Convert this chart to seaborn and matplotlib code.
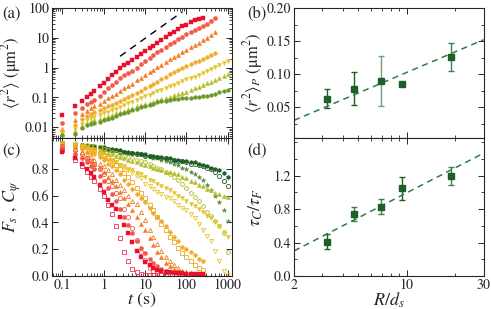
import seaborn as sns
import matplotlib.pyplot as plt
import matplotlib.ticker as mticker
import numpy as np

sns.set_style('ticks')
plt.rcParams['font.family'] = ['STIXGeneral', 'DejaVu Serif']
plt.rcParams['mathtext.fontset'] = 'stix'

# time grid (s) shared by panels (a) and (c)
t_grid = [0.1, 0.2, 0.3, 0.4, 0.5, 0.6, 0.8, 1, 1.3, 1.6, 2, 2.5, 3.2, 4, 5, 6.3, 8, 10,
          13, 16, 20, 25, 32, 40, 50, 63, 80, 100, 130, 160, 200, 250, 320, 400, 500,
          630, 800, 1000]

# panel (a): mean square displacement, um^2
msd_red = [0.025, 0.05, 0.078, 0.105, 0.13, 0.16, 0.24, 0.31, 0.43, 0.58, 0.73, 0.95, 1.2,
           1.45, 1.75, 2.2, 2.8, 3.5, 4.5, 5.5, 6.9, 8.5, 10.5, 13, 16, 19.5, 24, 28, 34,
           39, 44, 48]
msd_salmon = [0.0135, 0.029, 0.045, 0.06, 0.07, 0.08, 0.115, 0.15, 0.2, 0.27, 0.34, 0.44,
              0.56, 0.68, 0.8, 1.0, 1.3, 1.65, 2.1, 2.6, 3.25, 4.0, 5.0, 6.1, 7.4, 9.2, 11,
              13, 15.5, 18, 21.5, 25, 30, 37, 46]
msd_orange = [0.0086, 0.017, 0.028, 0.036, 0.043, 0.05, 0.061, 0.074, 0.092, 0.11, 0.135,
              0.165, 0.205, 0.24, 0.285, 0.37, 0.46, 0.56, 0.69, 0.84, 1.02, 1.25, 1.6, 1.9,
              2.3, 2.75, 3.3, 3.9, 4.8, 5.7, 6.9, 8.3, 10.2, 12.8, 16]
msd_yorange = [0.0072, 0.012, 0.019, 0.024, 0.028, 0.032, 0.037, 0.043, 0.05, 0.057, 0.066,
               0.077, 0.09, 0.105, 0.122, 0.145, 0.17, 0.2, 0.24, 0.28, 0.33, 0.42, 0.5,
               0.6, 0.7, 0.82, 0.96, 1.1, 1.3, 1.5, 1.7, 1.95, 2.3, 2.7, 3.2]
msd_yellow = [0.0062, 0.009, 0.013, 0.017, 0.02, 0.022, 0.025, 0.029, 0.033, 0.037, 0.042,
              0.048, 0.055, 0.063, 0.072, 0.082, 0.095, 0.11, 0.125, 0.14, 0.16, 0.18, 0.21,
              0.24, 0.27, 0.31, 0.36, 0.41, 0.45, 0.5, 0.56, 0.64, 0.75, 0.88, 1.02, 1.2,
              1.42, 1.7]
msd_ygreen = [0.0058, 0.0072, 0.011, 0.014, 0.016, 0.017, 0.019, 0.021, 0.024, 0.026,
              0.029, 0.032, 0.036, 0.04, 0.045, 0.05, 0.055, 0.06, 0.066, 0.072, 0.08,
              0.088, 0.098, 0.107, 0.117, 0.128, 0.14, 0.155, 0.175, 0.2, 0.23, 0.26, 0.3,
              0.34, 0.39, 0.45, 0.53, 0.63]
msd_green = [0.0055, 0.006, 0.0095, 0.012, 0.013, 0.014, 0.015, 0.017, 0.019, 0.021, 0.024,
             0.027, 0.03, 0.033, 0.037, 0.041, 0.046, 0.051, 0.057, 0.062, 0.068, 0.073,
             0.078, 0.082, 0.086, 0.089, 0.092, 0.094, 0.097, 0.1, 0.103, 0.108, 0.115,
             0.124, 0.135, 0.148, 0.163, 0.18]
guide_t = [2.5, 80]
guide_msd = [2.4, 75]

# panel (c): F_s (filled) and C_psi (open)
fs_red = [0.93, 0.88, 0.84, 0.8, 0.77, 0.74, 0.68, 0.63, 0.57, 0.53, 0.5, 0.44, 0.38, 0.32,
          0.25, 0.19, 0.14, 0.107, 0.08, 0.06, 0.045, 0.035, 0.03, 0.027, 0.025, 0.022,
          0.02, 0.018, 0.016, 0.015, 0.014, 0.013]
cp_red = [0.94, 0.87, 0.82, 0.78, 0.74, 0.71, 0.65, 0.6, 0.53, 0.46, 0.37, 0.28, 0.18, 0.11,
          0.055, 0.03, 0.015, 0.01, 0.008, 0.006, 0.005, 0.004, 0.003]
fs_salmon = [0.95, 0.91, 0.88, 0.85, 0.82, 0.8, 0.75, 0.71, 0.66, 0.61, 0.56, 0.5, 0.44,
             0.38, 0.32, 0.26, 0.21, 0.17, 0.13, 0.1, 0.075, 0.055, 0.04, 0.032, 0.026,
             0.022, 0.019, 0.016, 0.014, 0.012, 0.011, 0.01]
cp_salmon = [0.97, 0.94, 0.91, 0.88, 0.86, 0.84, 0.8, 0.76, 0.71, 0.67, 0.62, 0.58, 0.5,
             0.44, 0.36, 0.27, 0.18, 0.12, 0.06, 0.035, 0.022, 0.015, 0.01]
fs_orange = [0.96, 0.93, 0.9, 0.88, 0.86, 0.84, 0.81, 0.78, 0.74, 0.71, 0.67, 0.63, 0.58,
             0.54, 0.49, 0.44, 0.39, 0.34, 0.28, 0.23, 0.18, 0.14, 0.1, 0.075, 0.055, 0.04,
             0.03, 0.025, 0.02, 0.018, 0.016, 0.015]
cp_orange = [0.97, 0.95, 0.93, 0.91, 0.89, 0.87, 0.84, 0.82, 0.79, 0.76, 0.72, 0.68, 0.64,
             0.6, 0.56, 0.54, 0.48, 0.42, 0.34, 0.29, 0.24, 0.19, 0.145, 0.11, 0.085, 0.062,
             0.04, 0.03, 0.02, 0.015, 0.012]
fs_yorange = [0.98, 0.96, 0.95, 0.93, 0.92, 0.91, 0.89, 0.87, 0.84, 0.82, 0.79, 0.76, 0.72,
              0.69, 0.65, 0.61, 0.58, 0.55, 0.51, 0.47, 0.44, 0.41, 0.37, 0.33, 0.29, 0.26,
              0.22, 0.2, 0.18, 0.16, 0.13, 0.11]
cp_yorange = [0.99, 0.98, 0.97, 0.96, 0.95, 0.94, 0.92, 0.9, 0.88, 0.86, 0.83, 0.8, 0.77,
              0.74, 0.7, 0.66, 0.62, 0.58, 0.53, 0.49, 0.44, 0.39, 0.34, 0.29, 0.25, 0.21,
              0.17, 0.14, 0.11, 0.085, 0.062, 0.045]
fs_yellow = [0.98, 0.97, 0.96, 0.95, 0.94, 0.93, 0.91, 0.88, 0.87, 0.86, 0.85, 0.83, 0.82,
             0.8, 0.79, 0.77, 0.76, 0.74, 0.72, 0.71, 0.69, 0.67, 0.66, 0.64, 0.62, 0.6,
             0.58, 0.56, 0.54, 0.52, 0.5, 0.48, 0.45, 0.43, 0.4, 0.37, 0.33, 0.29]
cp_yellow = [0.99, 0.98, 0.97, 0.96, 0.95, 0.94, 0.92, 0.9, 0.88, 0.87, 0.85, 0.83, 0.81,
             0.79, 0.77, 0.75, 0.73, 0.69, 0.67, 0.65, 0.63, 0.61, 0.59, 0.58, 0.56, 0.53,
             0.51, 0.49, 0.46, 0.43, 0.39, 0.34, 0.3, 0.26, 0.19, 0.11, 0.04, 0.01]
fs_ygreen = [0.99, 0.98, 0.97, 0.96, 0.95, 0.95, 0.94, 0.93, 0.92, 0.91, 0.9, 0.89, 0.88,
             0.87, 0.86, 0.85, 0.84, 0.83, 0.82, 0.81, 0.8, 0.79, 0.78, 0.775, 0.77, 0.76,
             0.74, 0.73, 0.71, 0.7, 0.68, 0.67, 0.65, 0.64, 0.62, 0.61, 0.6, 0.59]
cp_ygreen = [0.99, 0.99, 0.98, 0.98, 0.97, 0.97, 0.96, 0.95, 0.94, 0.93, 0.92, 0.91, 0.9,
             0.89, 0.88, 0.87, 0.86, 0.85, 0.84, 0.82, 0.81, 0.8, 0.78, 0.76, 0.74, 0.72,
             0.69, 0.66, 0.62, 0.59, 0.56, 0.52, 0.48, 0.45, 0.41, 0.37, 0.32, 0.18]
fs_dgreen = [0.99, 0.98, 0.98, 0.97, 0.97, 0.97, 0.96, 0.96, 0.95, 0.95, 0.94, 0.94, 0.93,
             0.93, 0.92, 0.92, 0.91, 0.91, 0.9, 0.9, 0.89, 0.89, 0.88, 0.88, 0.87, 0.87,
             0.86, 0.86, 0.85, 0.85, 0.84, 0.83, 0.82, 0.81, 0.8, 0.79, 0.77, 0.74]
cp_dgreen = [0.99, 0.98, 0.98, 0.97, 0.97, 0.96, 0.96, 0.95, 0.95, 0.94, 0.94, 0.93, 0.93,
             0.92, 0.92, 0.91, 0.91, 0.9, 0.9, 0.89, 0.89, 0.88, 0.88, 0.87, 0.87, 0.86,
             0.86, 0.85, 0.84, 0.84, 0.83, 0.82, 0.81, 0.8, 0.78, 0.75, 0.71, 0.67]
cp_star = [0.99, 0.98, 0.97, 0.97, 0.96, 0.96, 0.96, 0.95, 0.95, 0.94, 0.94, 0.93, 0.93,
           0.92, 0.92, 0.91, 0.91, 0.9, 0.89, 0.88, 0.88, 0.87, 0.86, 0.85, 0.84, 0.83,
           0.81, 0.8, 0.78, 0.76, 0.74, 0.72, 0.68, 0.64, 0.6, 0.55, 0.49, 0.41]

# panels (b), (d)
r_ds = [3.2, 4.7, 6.9, 9.4, 18.7]
msd_p = [0.063, 0.078, 0.089, 0.085, 0.126]
msd_p_err = [0.015, 0.025, 0.038, 0.003, 0.021]
tau_ratio = [0.41, 0.74, 0.83, 1.05, 1.20]
tau_err = [0.09, 0.08, 0.09, 0.14, 0.11]
fit_x = [2, 30]
fit_b = [0.030, 0.152]
fit_d = [0.30, 1.47]

red, salmon, orange = '#e8112d', '#f25a4a', '#f47a20'
yorange, yellow, ygreen = '#f0a820', '#e6c42c', '#b4bd2a'
green, dgreen, star = '#6b982a', '#1f5f27', '#55893a'
fitc = '#2f7d45'

fig = plt.figure(figsize=(4.91, 3.09), dpi=100)
ax_a = fig.add_axes([0.106, 0.553, 0.366, 0.421])
ax_c = fig.add_axes([0.106, 0.107, 0.366, 0.446], sharex=ax_a)
ax_b = fig.add_axes([0.599, 0.553, 0.386, 0.421])
ax_d = fig.add_axes([0.599, 0.107, 0.386, 0.446], sharex=ax_b)


def pts(ax, vals, color, marker, filled=True, ms=3.0):
    t = t_grid[:len(vals)]
    sns.lineplot(x=t, y=vals, ax=ax, color=color, marker=marker, linestyle='',
                 ms=ms, mec=color, mfc=color if filled else 'none',
                 mew=0.3 if filled else 0.6)


pts(ax_a, msd_red, red, 's')
pts(ax_a, msd_salmon, salmon, 'o')
pts(ax_a, msd_orange, orange, '^')
pts(ax_a, msd_yorange, yorange, 'P')
pts(ax_a, msd_yellow, yellow, 'v')
pts(ax_a, msd_ygreen, ygreen, '^')
pts(ax_a, msd_green, green, 'h')
sns.lineplot(x=guide_t, y=guide_msd, ax=ax_a, color='k', lw=1.0, dashes=(5, 4))

pts(ax_c, cp_dgreen, dgreen, 'o', filled=False)
pts(ax_c, cp_star, star, '*', ms=3.4)
pts(ax_c, fs_dgreen, dgreen, 'h')
pts(ax_c, cp_ygreen, ygreen, 'h', filled=False)
pts(ax_c, fs_ygreen, ygreen, '^')
pts(ax_c, cp_yellow, yellow, 'v', filled=False)
pts(ax_c, fs_yellow, yellow, 'v')
pts(ax_c, cp_yorange, yorange, 's', filled=False)
pts(ax_c, fs_yorange, yorange, 'P')
pts(ax_c, cp_orange, orange, '^', filled=False)
pts(ax_c, fs_orange, orange, '^')
pts(ax_c, cp_salmon, salmon, 'o', filled=False)
pts(ax_c, fs_salmon, salmon, 'o')
pts(ax_c, cp_red, '#ec3050', 's', filled=False)
pts(ax_c, fs_red, red, 's')

ax_a.set_xscale('log')
ax_a.set_yscale('log')
ax_a.set_xlim(0.057, 1250)
ax_a.set_ylim(0.0043, 100)
ax_a.yaxis.set_major_locator(mticker.LogLocator(base=10, numticks=12))
ax_a.yaxis.set_minor_locator(mticker.LogLocator(base=10, subs=np.arange(2, 10), numticks=12))
ax_a.yaxis.set_major_formatter(mticker.FuncFormatter(lambda v, p: f'{v:g}'))
ax_a.yaxis.set_minor_formatter(mticker.NullFormatter())
ax_a.set_ylabel(r'$\langle r^2\rangle$ (μm$^2$)', fontsize=12)
ax_a.tick_params(labelbottom=False)

ax_c.set_ylim(0, 1.03)
ax_c.set_yticks([0, 0.2, 0.4, 0.6, 0.8])
ax_c.yaxis.set_major_formatter(mticker.FormatStrFormatter('%.1f'))
ax_c.xaxis.set_major_locator(mticker.LogLocator(base=10, numticks=12))
ax_c.xaxis.set_minor_locator(mticker.LogLocator(base=10, subs=np.arange(2, 10), numticks=12))
ax_c.xaxis.set_major_formatter(mticker.FuncFormatter(lambda v, p: f'{v:g}'))
ax_c.xaxis.set_minor_formatter(mticker.NullFormatter())
ax_c.set_xlabel(r'$t$ (s)', fontsize=13, labelpad=-1)
ax_c.set_ylabel(r'$F_s$ , $C_\psi$', fontsize=13)

ecol_b = [dgreen, dgreen, '#6f9f7c', dgreen, '#3f7f55']
for x, y, e, ec in zip(r_ds, msd_p, msd_p_err, ecol_b):
    ax_b.errorbar([x], [y], yerr=[e], fmt='s', color=dgreen, ecolor=ec, ms=4.5,
                  capsize=2, elinewidth=1.0, capthick=1.0)
sns.lineplot(x=fit_x, y=fit_b, ax=ax_b, color=fitc, lw=1.1, dashes=(4, 3))

ecol_d = [dgreen, '#3f7f55', '#3f7f55', dgreen, '#3f7f55']
for x, y, e, ec in zip(r_ds, tau_ratio, tau_err, ecol_d):
    ax_d.errorbar([x], [y], yerr=[e], fmt='s', color=dgreen, ecolor=ec, ms=4.5,
                  capsize=2, elinewidth=1.0, capthick=1.0)
sns.lineplot(x=fit_x, y=fit_d, ax=ax_d, color=fitc, lw=1.1, dashes=(4, 3))

ax_b.set_xscale('log')
ax_b.set_xlim(2, 30)
ax_b.set_ylim(0.003, 0.2)
ax_b.set_yticks([0.05, 0.10, 0.15, 0.20])
ax_b.yaxis.set_major_formatter(mticker.FormatStrFormatter('%.2f'))
ax_b.yaxis.set_minor_locator(mticker.MultipleLocator(0.025))
ax_b.set_ylabel(r'$\langle r^2\rangle_P$ (μm$^2$)', fontsize=12)
ax_b.tick_params(labelbottom=False)

ax_d.set_ylim(0, 1.65)
ax_d.set_yticks([0, 0.4, 0.8, 1.2])
ax_d.yaxis.set_major_formatter(mticker.FormatStrFormatter('%.1f'))
ax_d.yaxis.set_minor_locator(mticker.MultipleLocator(0.2))
ax_d.set_xticks([2, 10, 30])
ax_d.xaxis.set_major_formatter(mticker.FuncFormatter(lambda v, p: f'{v:g}'))
ax_d.xaxis.set_minor_formatter(mticker.NullFormatter())
ax_d.set_xlabel(r'$R/d_s$', fontsize=13, labelpad=-1)
ax_d.set_ylabel(r'$\tau_C/\tau_F$', fontsize=13)

for ax in (ax_a, ax_b, ax_c, ax_d):
    ax.tick_params(which='both', direction='in', top=True, right=True, labelsize=10,
                   pad=2)
    ax.tick_params(which='major', length=4, width=0.7)
    ax.tick_params(which='minor', length=2, width=0.6)
    for s in ax.spines.values():
        s.set_linewidth(0.8)
    ax.yaxis.set_label_coords(-0.16 if ax in (ax_a, ax_c) else -0.155, 0.5)

for lab, x, y in [('(a)', 0.005, 0.955), ('(c)', 0.005, 0.51), ('(b)', 0.503, 0.955),
                  ('(d)', 0.503, 0.51)]:
    fig.text(x, y, lab, fontsize=12, va='center')

fig.savefig('out.png', dpi=100)
